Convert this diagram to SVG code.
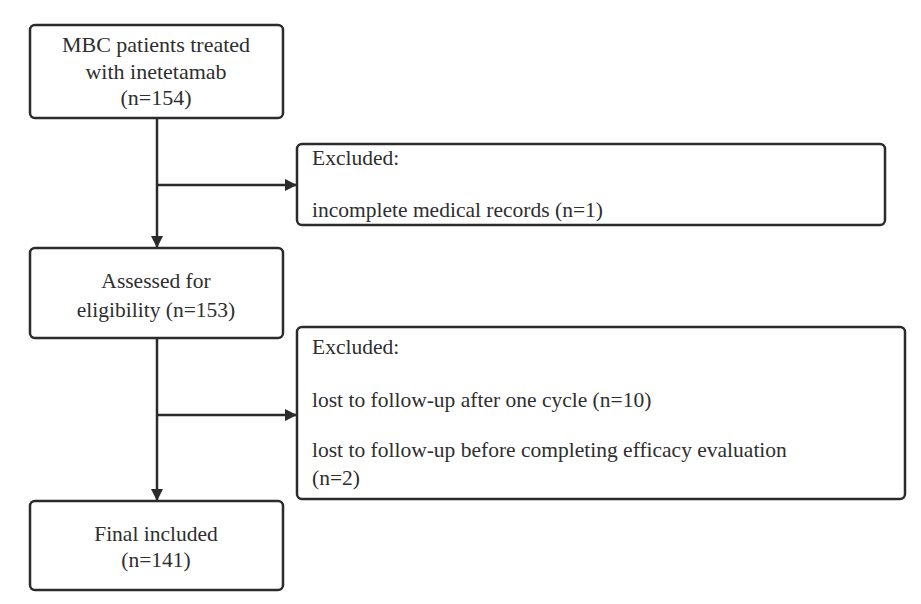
<svg xmlns="http://www.w3.org/2000/svg" width="921" height="604" viewBox="0 0 921 604">
<defs>
<style>
.box{fill:#fff;stroke:#2b2b2b;stroke-width:2.5}
text{font-family:'Liberation Serif','Times New Roman',Times,serif;font-size:21.5px;fill:#2e2e2e}
.c{text-anchor:middle}
.big{font-size:22px}
.ln{stroke:#2b2b2b;stroke-width:2.5;fill:none}
</style>
<marker id="ah" viewBox="0 0 12 12" refX="12" refY="6" markerWidth="12" markerHeight="12" markerUnits="userSpaceOnUse" orient="auto">
<path d="M0,0 L12,6 L0,12 Z" fill="#2b2b2b"/>
</marker>
</defs>
<rect width="921" height="604" fill="#fff"/>
<g id="connectors">
<line class="ln" x1="157" y1="118" x2="157" y2="248" marker-end="url(#ah)"/>
<line class="ln" x1="157" y1="185" x2="297" y2="185" marker-end="url(#ah)"/>
<line class="ln" x1="157" y1="338" x2="157" y2="501" marker-end="url(#ah)"/>
<line class="ln" x1="157" y1="415" x2="297" y2="415" marker-end="url(#ah)"/>
</g>
<g id="n1">
<rect class="box" x="30" y="25" width="253" height="93" rx="5"/>
<text class="c big" x="156" y="52">MBC patients treated</text>
<text class="c big" x="156" y="79">with inetetamab</text>
<text class="c big" x="156" y="105">(n=154)</text>
</g>
<g id="n2">
<rect class="box" x="297" y="144" width="588" height="81" rx="5"/>
<text x="312" y="165">Excluded:</text>
<text x="312" y="217">incomplete medical records (n=1)</text>
</g>
<g id="n3">
<rect class="box" x="30" y="248" width="253" height="90" rx="5"/>
<text class="c" x="156" y="288">Assessed for</text>
<text class="c" x="156" y="317">eligibility (n=153)</text>
</g>
<g id="n4">
<rect class="box" x="297" y="327" width="608" height="172" rx="5"/>
<text x="312" y="354">Excluded:</text>
<text x="312" y="407">lost to follow-up after one cycle (n=10)</text>
<text x="312" y="457">lost to follow-up before completing efficacy evaluation</text>
<text x="312" y="485">(n=2)</text>
</g>
<g id="n5">
<rect class="box" x="30" y="501" width="253" height="89" rx="5"/>
<text class="c" x="156" y="541">Final included</text>
<text class="c" x="156" y="567">(n=141)</text>
</g>
</svg>
